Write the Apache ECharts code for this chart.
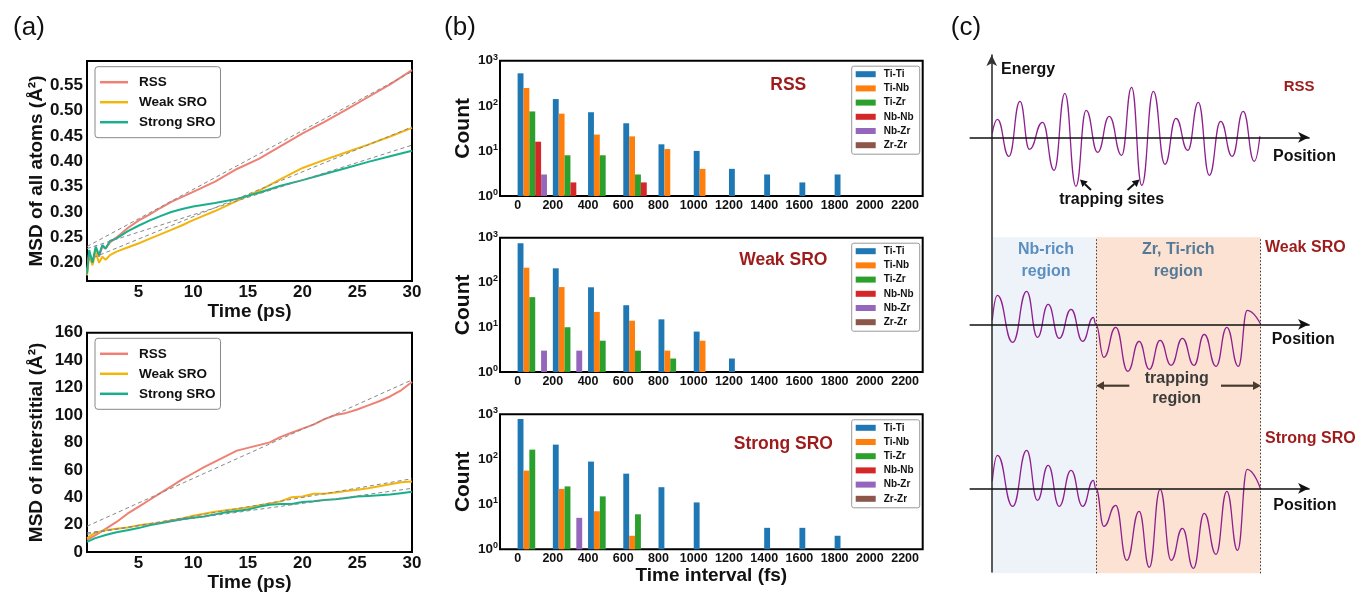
<!DOCTYPE html>
<html>
<head>
<meta charset="utf-8">
<script src="https://cdn.jsdelivr.net/npm/echarts@6/dist/echarts.min.js"></script>
<style>
html,body{margin:0;padding:0;background:#fff}
#main{width:1359px;height:593px}
</style>
</head>
<body>
<div id="main"></div>
<script>
// ---- (a) MSD of all atoms
var timeAll = [0.3, 0.5, 0.8, 1.1, 1.4, 1.7, 2.0, 2.4, 3, 4, 5, 6, 7, 8, 9, 10, 12, 14, 16, 18, 20, 22, 24, 26, 28, 30];
var rssAll = [0.18, 0.22, 0.2, 0.228, 0.212, 0.232, 0.228, 0.24, 0.25, 0.268, 0.283, 0.295, 0.308, 0.32, 0.33, 0.34, 0.36, 0.385, 0.405, 0.43, 0.455, 0.478, 0.502, 0.527, 0.552, 0.58];
var weakAll = [0.175, 0.215, 0.195, 0.22, 0.2, 0.212, 0.206, 0.215, 0.222, 0.23, 0.238, 0.247, 0.256, 0.265, 0.274, 0.284, 0.302, 0.322, 0.342, 0.365, 0.387, 0.403, 0.418, 0.433, 0.449, 0.466];
var strongAll = [0.178, 0.225, 0.2, 0.232, 0.215, 0.235, 0.228, 0.243, 0.248, 0.262, 0.273, 0.283, 0.292, 0.3, 0.306, 0.311, 0.318, 0.326, 0.338, 0.352, 0.363, 0.375, 0.387, 0.399, 0.41, 0.421];
var fitTime = [0.3, 30];
var rssFitAll = [0.232, 0.577];
var weakFitAll = [0.205, 0.468];
var strongFitAll = [0.228, 0.432];

// ---- (a) MSD of interstitial
var timeInt = [0.3, 1, 2, 3, 4, 5, 6, 7, 8, 9, 10, 11, 12, 13, 14, 15, 16, 17, 18, 19, 20, 21, 22, 23, 24, 25, 26, 27, 28, 29, 30];
var rssInt = [9, 12, 17, 22, 28, 33, 38, 43, 48, 53, 57.5, 62, 66, 70, 74, 76, 78, 80, 84, 87, 90, 93, 97, 100, 101.5, 104, 107, 110, 113.5, 118, 124];
var weakInt = [10, 14, 16, 17, 18, 19.5, 20.5, 21.5, 23, 24.5, 26.5, 28, 29.5, 30.5, 31.5, 32.5, 34, 35.5, 37, 40, 40.5, 42.5, 42.5, 43.5, 44.5, 45.5, 46.5, 48, 49.5, 51, 51.5];
var strongInt = [7.5, 10, 12.5, 14.5, 16, 17.5, 19.5, 21, 22.5, 24, 25, 26, 27.5, 29, 30, 31, 33, 34.5, 35, 35, 36.5, 37, 38, 38.5, 39.5, 40.5, 41, 41.5, 42, 43, 44];
var rssFitInt = [18.9, 125.6];
var weakFitInt = [13, 53.5];
var strongFitInt = [14, 46.5];

// ---- (b) trapping time histograms (bins of 200 fs)
var pairs = ['Ti-Ti', 'Ti-Nb', 'Ti-Zr', 'Nb-Nb', 'Nb-Zr', 'Zr-Zr'];
var binStarts = [0, 200, 400, 600, 800, 1000, 1200, 1400, 1600, 1800];
var rssTiTi = [525, 141, 72, 41, 14, 10, 4, 3, 2, 3];
var rssTiNb = [248, 67, 23, 21, 11, 4];
var rssTiZr = [75, 8, 8, 3];
var rssNbNb = [16, 2, null, 2];
var rssNbZr = [3];
var rssZrZr = [];
var weakTiTi = [748, 207, 78, 31, 15, 8, 2];
var weakTiNb = [214, 79, 22, 14, 3, 5];
var weakTiZr = [47, 10, 5, 3, 2];
var weakNbNb = [];
var weakNbZr = [3, 3];
var weakZrZr = [];
var strongTiTi = [788, 212, 89, 48, 24, 11, null, 3, 3, 2];
var strongTiNb = [56, 22, 7, 2];
var strongTiZr = [164, 25, 15, 6];
var strongNbNb = [];
var strongNbZr = [null, 5];
var strongZrZr = [];

// ---- (c) schematic energy landscapes (position 0-100, energy in arbitrary units)
var rssPos = [0.2, 2.1, 6.4, 10.5, 14.0, 18.9, 23.2, 27.2, 31.3, 35.1, 39.4, 43.7, 48.3, 52.0, 55.8, 60.1, 64.4, 68.5, 72.9, 76.8, 80.9, 85.1, 89.4, 93.5, 97.6, 99.7];
var rssEnergy = [0.4, 1.8, -1.9, 3.6, -1.2, 1.5, -3.3, 4.4, -4.9, 2.7, -1.5, 2.1, -1.8, 5.0, -4.8, 4.6, -2.7, 1.9, -1.3, 3.5, -3.8, 1.6, -1.9, 2.6, -2.4, 0.1];
var weakPos = [0.2, 2.1, 7.8, 13.0, 17.0, 21.0, 25.1, 29.5, 33.8, 37.8, 38.7, 41.7, 46.1, 50.6, 54.8, 58.6, 62.6, 66.7, 70.9, 75.2, 79.0, 83.4, 87.4, 91.7, 95.0, 100];
var weakEnergy = [0.4, 2.9, -1.8, 3.3, -1.3, 2.0, -1.4, 1.5, -1.7, 0.7, 0, -3.3, -0.3, -4.7, -1.7, -4.5, -1.6, -4.1, -1.4, -4.1, -1.0, -4.2, -0.3, -4.2, 1.4, 0];
var strongPos = [0.2, 2.1, 7.8, 13.0, 17.0, 21.0, 25.1, 29.5, 33.8, 37.8, 38.7, 41.7, 46.1, 50.2, 54.8, 58.6, 62.6, 66.7, 70.9, 75.0, 79.0, 83.4, 87.4, 91.4, 95.0, 100];
var strongEnergy = [0.7, 3.3, -1.8, 3.8, -1.2, 2.3, -1.8, 1.8, -1.8, 0.8, 0, -3.8, -1.7, -7.2, -2.3, -7.9, -0.1, -7.2, -4.0, -8.0, -2.5, -6.6, -0.3, -6.2, 1.9, -0.1];
var regionBounds = [0, 38.7, 100];

var FONT = "'Liberation Sans', Arial, sans-serif";
var cRSS = '#EF8074', cWeak = '#F2B50C', cStrong = '#19AF8C';
var pairColors = ['#1f77b4', '#ff7f0e', '#2ca02c', '#d62728', '#9467bd', '#8c564b'];
var darkRed = '#9e1b1b';
var purple = '#8e1f8e';

var chart = echarts.init(document.getElementById('main'));

function zip(xs, ys) {
  return xs.map(function (x, i) { return [x, ys[i]]; });
}

function msdLine(name, t, v, color, idx) {
  return {
    type: 'line', name: name, xAxisIndex: idx, yAxisIndex: idx,
    data: zip(t, v), showSymbol: false, symbol: 'none',
    lineStyle: { color: color, width: 2 }, itemStyle: { color: color }, z: 3
  };
}
function fitLine(v, idx) {
  return {
    type: 'line', name: 'fit', xAxisIndex: idx, yAxisIndex: idx,
    data: zip(fitTime, v), showSymbol: false, symbol: 'none', silent: true,
    lineStyle: { color: '#888', width: 1, type: [4, 3] }, z: 4
  };
}

// bars: 6 pair slots inside every 200 fs bin
var bWidth = 422.7, slotFs = 200 / 6;
var barPx = slotFs * bWidth / 2400;
function pairBars(counts, idx) {
  return pairs.map(function (name, j) {
    var data = [];
    binStarts.forEach(function (b, i) {
      var c = counts[j][i];
      if (c != null) data.push([b + (j + 0.5) * slotFs, c]);
    });
    return {
      type: 'bar', name: name, xAxisIndex: idx, yAxisIndex: idx, data: data,
      barWidth: barPx, barGap: '-100%', itemStyle: { color: pairColors[j] }
    };
  });
}

function curve(pos, energy, idx) {
  return {
    type: 'line', xAxisIndex: idx, yAxisIndex: idx, data: zip(pos, energy),
    showSymbol: false, symbol: 'none', smooth: 0.5, smoothMonotone: 'x',
    lineStyle: { color: purple, width: 1.3 }, z: 3, silent: true
  };
}

var boxGrid = { show: true, borderColor: '#000', borderWidth: 2, backgroundColor: 'transparent' };
var grids = [
  Object.assign({ left: 87, top: 61, width: 325, height: 220 }, boxGrid),
  Object.assign({ left: 87, top: 332.7, width: 325, height: 220 }, boxGrid),
  Object.assign({ left: 500, top: 60.7, width: bWidth, height: 135.3 }, boxGrid),
  Object.assign({ left: 500, top: 237.7, width: bWidth, height: 134.3 }, boxGrid),
  Object.assign({ left: 500, top: 414.3, width: bWidth, height: 135 }, boxGrid),
  { left: 970.2, top: 77.3, width: 338.9, height: 120 },
  { left: 970.2, top: 234.3, width: 338.9, height: 180 },
  { left: 970.2, top: 398.3, width: 338.9, height: 180 },
  { left: 991.7, top: 55, width: 10, height: 517 },
  { left: 970.2, top: 237.3, width: 338.9, height: 336 }
];

var boldLabel = { fontFamily: FONT, fontWeight: 'bold', color: '#111' };
function aXAxis(idx) {
  return {
    gridIndex: idx, type: 'value', min: 0.3, max: 30, splitNumber: 6,
    axisLine: { show: false }, axisTick: { show: false }, splitLine: { show: false },
    axisLabel: Object.assign({ fontSize: 17, margin: 3, showMinLabel: false }, boldLabel),
    name: 'Time (ps)', nameLocation: 'middle', nameGap: 17,
    nameTextStyle: Object.assign({ fontSize: 19 }, boldLabel)
  };
}
function bXAxis(idx, withName) {
  var ax = {
    gridIndex: idx, type: 'value', min: -100, max: 2300, splitNumber: 12,
    axisLine: { show: false }, axisTick: { show: false }, splitLine: { show: false },
    axisLabel: Object.assign({ fontSize: 12.5, margin: 3, showMinLabel: false, showMaxLabel: false,
      formatter: function (v) { return String(v); } }, boldLabel)
  };
  if (withName) {
    ax.name = 'Time interval (fs)';
    ax.nameLocation = 'middle';
    ax.nameGap = 15;
    ax.nameTextStyle = Object.assign({ fontSize: 19 }, boldLabel);
  }
  return ax;
}
function bYAxis(idx) {
  return {
    gridIndex: idx, type: 'log', logBase: 10, min: 1, max: 1000,
    axisLine: { show: false }, axisTick: { show: false }, splitLine: { show: false },
    axisLabel: {
      margin: 2,
      formatter: function (v) { return '{b|10}{s|' + Math.round(Math.log10(v)) + '}'; },
      rich: {
        b: Object.assign({ fontSize: 13.5, lineHeight: 16 }, boldLabel),
        s: Object.assign({ fontSize: 9, lineHeight: 9, verticalAlign: 'top' }, boldLabel)
      }
    },
    name: 'Count', nameLocation: 'middle', nameRotate: 90, nameGap: 25,
    nameTextStyle: Object.assign({ fontSize: 21 }, boldLabel)
  };
}
function cXAxis(idx) {
  return {
    gridIndex: idx, type: 'value', min: -8, max: 118, z: 5,
    axisLine: { show: true, onZero: true, symbol: ['none', 'arrow'], symbolSize: [8, 11],
      lineStyle: { color: '#111', width: 1.6 } },
    axisTick: { show: false }, axisLabel: { show: false }, splitLine: { show: false }
  };
}
function hiddenAxis(idx, min, max) {
  return { gridIndex: idx, type: 'value', min: min, max: max, show: false, splitLine: { show: false } };
}

var xAxes = [
  aXAxis(0), aXAxis(1),
  bXAxis(2, false), bXAxis(3, false), bXAxis(4, true),
  cXAxis(5), cXAxis(6), cXAxis(7),
  hiddenAxis(8, 0, 1), hiddenAxis(9, -8, 118)
];
var yAxes = [
  {
    gridIndex: 0, type: 'value', min: 0.164, max: 0.598, splitNumber: 8,
    axisLine: { show: false }, axisTick: { show: false }, splitLine: { show: false },
    axisLabel: Object.assign({ fontSize: 17, margin: 4, showMinLabel: false, showMaxLabel: false,
      formatter: function (v) { return v.toFixed(2); } }, boldLabel),
    name: 'MSD of all atoms (Å²)', nameLocation: 'middle', nameRotate: 90, nameGap: 41,
    nameTextStyle: Object.assign({ fontSize: 19 }, boldLabel)
  },
  {
    gridIndex: 1, type: 'value', min: 0, max: 160, interval: 20,
    axisLine: { show: false }, axisTick: { show: false }, splitLine: { show: false },
    axisLabel: Object.assign({ fontSize: 17, margin: 4 }, boldLabel),
    name: 'MSD of interstitial (Å²)', nameLocation: 'middle', nameRotate: 90, nameGap: 41,
    nameTextStyle: Object.assign({ fontSize: 19 }, boldLabel)
  },
  bYAxis(2), bYAxis(3), bYAxis(4),
  hiddenAxis(5, -6, 6), hiddenAxis(6, -9, 9), hiddenAxis(7, -9, 9),
  {
    gridIndex: 8, type: 'value', min: 0, max: 1, z: 5,
    axisLine: { show: true, symbol: ['none', 'arrow'], symbolSize: [8, 11],
      lineStyle: { color: '#333', width: 1.6 } },
    axisTick: { show: false }, axisLabel: { show: false }, splitLine: { show: false }
  },
  hiddenAxis(9, 0, 1)
];

var series = [
  msdLine('RSS', timeAll, rssAll, cRSS, 0),
  msdLine('Weak SRO', timeAll, weakAll, cWeak, 0),
  msdLine('Strong SRO', timeAll, strongAll, cStrong, 0),
  fitLine(rssFitAll, 0), fitLine(weakFitAll, 0), fitLine(strongFitAll, 0),
  msdLine('RSS', timeInt, rssInt, cRSS, 1),
  msdLine('Weak SRO', timeInt, weakInt, cWeak, 1),
  msdLine('Strong SRO', timeInt, strongInt, cStrong, 1),
  fitLine(rssFitInt, 1), fitLine(weakFitInt, 1), fitLine(strongFitInt, 1)
];
series = series.concat(pairBars([rssTiTi, rssTiNb, rssTiZr, rssNbNb, rssNbZr, rssZrZr], 2));
series = series.concat(pairBars([weakTiTi, weakTiNb, weakTiZr, weakNbNb, weakNbZr, weakZrZr], 3));
series = series.concat(pairBars([strongTiTi, strongTiNb, strongTiZr, strongNbNb, strongNbZr, strongZrZr], 4));
series.push(curve(rssPos, rssEnergy, 5));
series.push(curve(weakPos, weakEnergy, 6));
series.push(curve(strongPos, strongEnergy, 7));
// shaded regions and dotted boundaries of panel (c)
series.push({
  type: 'line', xAxisIndex: 9, yAxisIndex: 9, silent: true, z: 0,
  data: regionBounds.map(function (u) { return [u, 0]; }),
  showSymbol: false, symbol: 'none', lineStyle: { opacity: 0 },
  markArea: {
    silent: true,
    data: [
      [{ xAxis: regionBounds[0], itemStyle: { color: '#eef3fa' } }, { xAxis: regionBounds[1] }],
      [{ xAxis: regionBounds[1], itemStyle: { color: '#fbe2d2' } }, { xAxis: regionBounds[2] }]
    ]
  },
  markLine: {
    silent: true, symbol: 'none', label: { show: false },
    lineStyle: { color: '#333', width: 1, type: [1.5, 2] },
    data: [{ xAxis: regionBounds[1] }, { xAxis: regionBounds[2] }]
  }
});

function aLegend(top) {
  return {
    data: ['RSS', 'Weak SRO', 'Strong SRO'], orient: 'vertical', left: 95, top: top,
    icon: 'rect', itemWidth: 28, itemHeight: 2.5, itemGap: 6, padding: [8.5, 5, 8.5, 5],
    borderColor: '#888', borderWidth: 1, borderRadius: 3, backgroundColor: '#fff',
    textStyle: { fontFamily: FONT, fontSize: 13.5, lineHeight: 14, fontWeight: 'bold', color: '#111', padding: [0, 0, 0, 6] }
  };
}
function bLegend(top) {
  return {
    data: pairs, orient: 'vertical', left: 851.7, top: top, icon: 'rect',
    itemWidth: 20, itemHeight: 6, itemGap: 2.2, padding: [2, 6, 3, 4],
    borderColor: '#999', borderWidth: 1, borderRadius: 2, backgroundColor: '#fff',
    textStyle: { fontFamily: FONT, fontSize: 10, lineHeight: 12, fontWeight: 'bold', color: '#111', padding: [0, 0, 0, 3] }
  };
}

function txt(text, x, y, size, color, align, weight) {
  return {
    type: 'text', x: x, y: y, z: 10, silent: true,
    style: {
      text: text, fill: color || '#111', font: (weight || 'bold') + ' ' + size + 'px ' + FONT,
      align: align || 'center', verticalAlign: 'middle',
      textAlign: align || 'center', textVerticalAlign: 'middle'
    }
  };
}
function arrow(x1, y1, x2, y2, color, head, lw) {
  var dx = x2 - x1, dy = y2 - y1, L = Math.sqrt(dx * dx + dy * dy);
  var ux = dx / L, uy = dy / L, h = head || 7, w = h * 0.55;
  var bx = x2 - ux * h, by = y2 - uy * h;
  return {
    type: 'group', z: 10, silent: true,
    children: [
      { type: 'line', z: 10, shape: { x1: x1, y1: y1, x2: bx, y2: by }, style: { stroke: color, lineWidth: lw || 2 } },
      { type: 'polygon', z: 10, shape: { points: [[x2, y2], [bx - uy * w, by + ux * w], [bx + uy * w, by - ux * w]] },
        style: { fill: color } }
    ]
  };
}

var graphics = [
  txt('(a)', 29, 28, 26, '#111', 'center', 'normal'),
  txt('(b)', 460, 28, 26, '#111', 'center', 'normal'),
  txt('(c)', 966, 28, 26, '#111', 'center', 'normal'),
  txt('RSS', 788.3, 85, 17.5, darkRed),
  txt('Weak SRO', 783.3, 260, 17.5, darkRed),
  txt('Strong SRO', 783.3, 444.3, 17.5, darkRed),
  txt('Energy', 1001, 69.3, 16, '#111', 'left'),
  txt('RSS', 1299.2, 86.7, 15, darkRed),
  txt('Position', 1273, 156.7, 16, '#111', 'left'),
  txt('trapping sites', 1111.7, 200, 16),
  arrow(1091, 190, 1080, 179.5, '#111', 7, 2),
  arrow(1127.5, 190, 1139.5, 179.5, '#111', 7, 2),
  txt('Nb-rich', 1046, 250, 16, '#5b8fc0'),
  txt('region', 1046, 271.7, 16, '#5b8fc0'),
  txt('Zr, Ti-rich', 1178.3, 250, 16, '#557a98'),
  txt('region', 1178.3, 271.7, 16, '#557a98'),
  txt('Weak SRO', 1265, 247.3, 16, darkRed, 'left'),
  txt('Position', 1271.7, 339.3, 16, '#111', 'left'),
  txt('trapping', 1176.7, 379, 16, '#3b3b3b'),
  txt('region', 1176.7, 398.3, 16, '#3b3b3b'),
  arrow(1129.3, 385.7, 1096, 385.7, '#4a3b30', 8, 2.2),
  arrow(1221, 385.7, 1261, 385.7, '#4a3b30', 8, 2.2),
  txt('Strong SRO', 1265, 438.3, 16, darkRed, 'left'),
  txt('Position', 1273.3, 506, 16, '#111', 'left')
];

chart.setOption({
  animation: false,
  backgroundColor: '#fff',
  textStyle: { fontFamily: FONT },
  grid: grids,
  xAxis: xAxes,
  yAxis: yAxes,
  legend: [aLegend(66.7), aLegend(338.3), bLegend(66.2), bLegend(243.2), bLegend(419.8)],
  series: series,
  graphic: graphics
});
</script>
</body>
</html>
